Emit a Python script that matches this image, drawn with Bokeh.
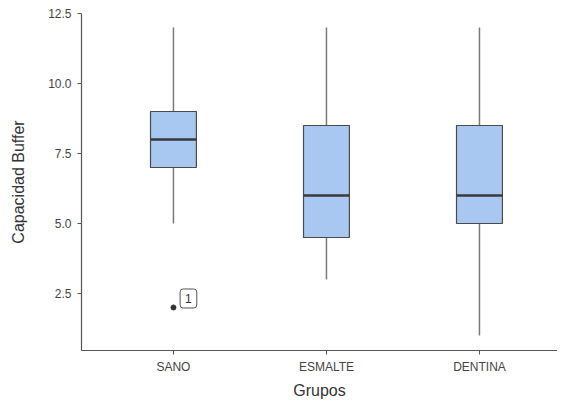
from bokeh.plotting import figure
from bokeh.models import ColumnDataSource, FixedTicker, Label, Range1d
from bokeh.embed import file_html
from bokeh.resources import INLINE

groups = ["SANO", "ESMALTE", "DENTINA"]
whisker_low = [5.0, 3.0, 1.0]
q1 = [7.0, 4.5, 5.0]
median = [8.0, 6.0, 6.0]
q3 = [9.0, 8.5, 8.5]
whisker_high = [12.0, 12.0, 12.0]
outlier_group = ["SANO"]
outlier_value = [2.0]
outlier_label = ["1"]
y_ticks = [2.5, 5.0, 7.5, 10.0, 12.5]

xs = [i + 1 for i in range(len(groups))]
box_w = 0.3
src = ColumnDataSource(dict(x=xs, lo=whisker_low, q1=q1, med=median, q3=q3, hi=whisker_high,
                            x0=[x - box_w / 2 for x in xs], x1=[x + box_w / 2 for x in xs]))

p = figure(width=557, height=402, output_backend="svg", toolbar_location=None,
           x_range=Range1d(0.399, 3.51), y_range=Range1d(0.464, 12.5),
           min_border_left=81, min_border_right=0, min_border_top=13, min_border_bottom=52)
p.outline_line_color = None
p.xgrid.visible = False
p.ygrid.visible = False

p.segment(x0="x", y0="lo", x1="x", y1="q1", source=src, line_color="#7a7a7a", line_width=1.5)
p.segment(x0="x", y0="q3", x1="x", y1="hi", source=src, line_color="#7a7a7a", line_width=1.5)
p.vbar(x="x", width=box_w, bottom="q1", top="q3", source=src,
       fill_color="#a9c8f1", line_color="#4a4a4a", line_width=1.2)
p.segment(x0="x0", y0="med", x1="x1", y1="med", source=src, line_color="#3a3a3a", line_width=2.5)

ox = [groups.index(g) + 1 for g in outlier_group]
p.scatter(x=ox, y=outlier_value, size=5, color="#333333")
for x, y, t in zip(ox, outlier_value, outlier_label):
    p.add_layout(Label(x=x, y=y, text=t, x_offset=15, y_offset=9,
                       text_align="center", text_baseline="middle",
                       text_font="Liberation Sans", text_font_size="12px", text_color="#333333",
                       background_fill_color="white", border_line_color="#555555",
                       border_line_width=1, border_radius=3, padding=5))

for ax in (p.xaxis[0], p.yaxis[0]):
    ax.axis_line_color = "#555555"
    ax.axis_line_width = 1.2
    ax.major_tick_line_color = "#555555"
    ax.major_tick_in = 0
    ax.major_tick_out = 4
    ax.minor_tick_line_color = None
    ax.major_label_text_font = "Liberation Sans"
    ax.major_label_text_font_size = "12px"
    ax.major_label_text_color = "#444444"
    ax.axis_label_text_font = "Liberation Sans"
    ax.axis_label_text_font_size = "16px"
    ax.axis_label_text_font_style = "normal"
    ax.axis_label_text_color = "#333333"

p.xaxis.ticker = FixedTicker(ticks=xs)
p.xaxis.major_label_overrides = {x: g for x, g in zip(xs, groups)}
p.xaxis.axis_label = "Grupos"
p.xaxis.major_label_standoff = 5
p.xaxis.axis_label_standoff = 5

p.yaxis.ticker = FixedTicker(ticks=y_ticks)
p.yaxis.major_label_overrides = {t: f"{t:.1f}" for t in y_ticks}
p.yaxis.axis_label = "Capacidad Buffer"
p.yaxis.major_label_standoff = 6
p.yaxis.axis_label_standoff = 18

open("out.html", "w").write(file_html(p, INLINE))
